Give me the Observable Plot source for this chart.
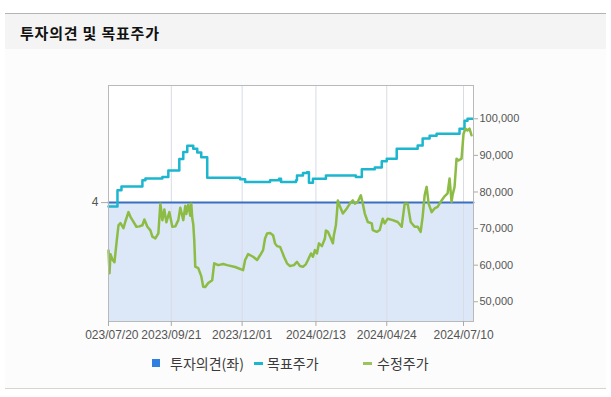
<!DOCTYPE html>
<html><head><meta charset="utf-8">
<script src="https://cdn.jsdelivr.net/npm/d3@7"></script>
<script src="https://cdn.jsdelivr.net/npm/@observablehq/plot@0.6"></script>
<style>
body{margin:0;background:#fff;width:611px;height:397px;position:relative;overflow:hidden;font-family:"Noto Sans CJK KR","Noto Sans",sans-serif;}
#topline{position:absolute;left:5px;top:13px;width:601px;height:1px;background:#b4b4b4}
#header{position:absolute;left:5px;top:14px;width:601px;height:35px;background:#f4f4f4}
#title{position:absolute;left:20px;top:25px;font-weight:bold;font-size:15px;line-height:15px;letter-spacing:0.8px;color:#111;white-space:nowrap}
#panel{position:absolute;left:5px;top:49px;width:601px;height:339px;background:#fcfcfc}
#bottomline{position:absolute;left:5px;top:388px;width:601px;height:1px;background:#d4d4d4}
#chart{position:absolute;left:0;top:49px}
.lg{position:absolute;font-size:14px;line-height:14px;top:356px;color:#3a3a3a;white-space:nowrap}
.sw{position:absolute}
</style></head>
<body>
<div id="topline"></div><div id="header"></div>
<div id="title">투자의견 및 목표주가</div>
<div id="panel"></div><div id="bottomline"></div>
<div id="chart"></div>
<div class="sw" style="left:152px;top:359px;width:8px;height:8px;background:#2e7fe0"></div>
<div class="lg" style="left:170px">투자의견(좌)</div>
<div class="sw" style="left:254px;top:362px;width:9px;height:3px;background:#1cb6cf"></div>
<div class="lg" style="left:267px">목표주가</div>
<div class="sw" style="left:363px;top:362px;width:9px;height:3px;background:#9cc35c"></div>
<div class="lg" style="left:377px">수정주가</div>
<script>
// x-axis tick labels
const tickLabels = ["2023/07/20","2023/09/21","2023/12/01","2024/02/13","2024/04/24","2024/07/10"];
// right axis (price) ticks
const priceTicks = [50000,60000,70000,80000,90000,100000];
// investment opinion (left axis)
const opinionDates = ["2023-07-20","2024-07-20"];
const opinionValues = [4,4];
const opinionTicks = [4];
// target price (목표주가)
const targetDates = ["2023-07-20","2023-07-29","2023-08-02","2023-08-23","2023-08-26","2023-09-12","2023-09-18","2023-09-29","2023-10-03","2023-10-07","2023-10-13","2023-10-17","2023-10-21","2023-10-27","2023-11-29","2023-12-04","2023-12-29","2024-01-07","2024-01-09","2024-01-24","2024-01-25","2024-01-31","2024-02-04","2024-02-06","2024-02-10","2024-02-23","2024-03-24","2024-03-30","2024-04-12","2024-04-19","2024-04-24","2024-05-04","2024-05-25","2024-05-30","2024-06-06","2024-06-13","2024-07-06","2024-07-11","2024-07-14","2024-07-19"];
const targetValues = [76000,80500,81500,83200,83700,84100,85900,89000,90900,92600,91800,90800,89500,83900,83500,82700,83200,83600,82700,83200,84500,85200,85400,82500,83600,84500,84100,86200,86700,88400,89100,91800,92700,94600,95400,95900,97300,99500,100000,100000];
// adjusted price (수정주가)
const priceDates = ["2023-07-20","2023-07-21","2023-07-22","2023-07-24","2023-07-26","2023-07-28","2023-07-30","2023-08-01","2023-08-04","2023-08-06","2023-08-09","2023-08-11","2023-08-13","2023-08-17","2023-08-20","2023-08-23","2023-08-25","2023-08-28","2023-08-31","2023-09-02","2023-09-05","2023-09-08","2023-09-10","2023-09-12","2023-09-14","2023-09-16","2023-09-19","2023-09-22","2023-09-25","2023-09-28","2023-09-30","2023-10-03","2023-10-05","2023-10-06","2023-10-08","2023-10-10","2023-10-11","2023-10-12","2023-10-13","2023-10-14","2023-10-15","2023-10-18","2023-10-21","2023-10-23","2023-10-25","2023-10-28","2023-11-01","2023-11-03","2023-11-07","2023-11-12","2023-11-16","2023-11-24","2023-12-02","2023-12-04","2023-12-07","2023-12-12","2023-12-16","2023-12-19","2023-12-22","2023-12-24","2023-12-26","2023-12-29","2024-01-01","2024-01-03","2024-01-05","2024-01-08","2024-01-10","2024-01-12","2024-01-15","2024-01-18","2024-01-22","2024-01-25","2024-01-28","2024-01-31","2024-02-03","2024-02-05","2024-02-08","2024-02-10","2024-02-12","2024-02-14","2024-02-16","2024-02-19","2024-02-22","2024-02-23","2024-02-25","2024-02-28","2024-03-01","2024-03-02","2024-03-04","2024-03-05","2024-03-06","2024-03-08","2024-03-11","2024-03-15","2024-03-18","2024-03-21","2024-03-23","2024-03-26","2024-03-29","2024-03-31","2024-04-02","2024-04-05","2024-04-09","2024-04-10","2024-04-14","2024-04-17","2024-04-20","2024-04-22","2024-04-25","2024-04-30","2024-05-05","2024-05-09","2024-05-12","2024-05-15","2024-05-18","2024-05-22","2024-05-25","2024-05-28","2024-05-30","2024-06-01","2024-06-03","2024-06-05","2024-06-08","2024-06-11","2024-06-14","2024-06-18","2024-06-21","2024-06-24","2024-06-26","2024-06-28","2024-06-29","2024-07-01","2024-07-03","2024-07-05","2024-07-08","2024-07-10","2024-07-12","2024-07-14","2024-07-16","2024-07-18"];
const priceValues = [64000,57800,63000,61500,60800,66000,70900,71500,70100,72000,74500,73200,72300,70500,70600,70900,72500,70500,69500,67800,67300,68700,76800,72300,75200,71700,74500,70500,70600,72300,75700,72300,76200,74000,76600,73500,76800,72800,71200,66800,59600,59200,57000,54100,54000,55100,55900,60500,60000,60300,60000,59500,58650,61400,63000,62300,61400,62700,64100,67300,68650,68800,68200,65950,65200,65000,63700,62300,60500,59750,60000,60900,59750,59550,60300,61400,63200,62300,64100,63200,65950,65200,67300,69500,69100,67300,65950,68200,70900,74100,77700,76100,74100,75500,76800,77700,76800,77300,79100,76800,74100,71800,71400,69600,69100,69600,72700,71400,72700,72300,71800,70500,76800,76800,71800,70500,70500,69100,73200,79100,81400,76800,74500,75500,75900,77700,78800,79600,83700,77300,79100,81400,89100,88600,89100,95900,97300,96800,97300,95500];

const parse = d3.utcParse("%Y-%m-%d");
const tickParse = d3.utcParse("%Y/%m/%d");
const ticks = tickLabels.map(tickParse);
const target = targetDates.map((d,i)=>({date:parse(d), v:targetValues[i]}));
const price = priceDates.map((d,i)=>({date:parse(d), v:priceValues[i]}));
const opinion = opinionDates.map((d,i)=>({date:parse(d), v:opinionValues[i]}));

const yDomain = [44600, 109100];
const opMax = 7.94; // left axis (opinion) spans 0..opMax over the same height
const opToY = o => yDomain[0] + o/opMax*(yDomain[1]-yDomain[0]);

const chart = Plot.plot({
  width: 611, height: 303,
  marginLeft: 108, marginRight: 138, marginTop: 36, marginBottom: 31,
  style: {background:"transparent", fontFamily:"'Liberation Sans', Arial, sans-serif", fontSize:"11px", color:"#555"},
  x: {type:"utc", domain:[parse("2023-07-20"), parse("2024-07-20")], axis:null},
  y: {domain:yDomain, axis:null},
  marks: [
    Plot.frame({fill:"#ffffff", stroke:null}),
    Plot.areaY(opinion, {x:"date", y1:yDomain[0], y2:d=>opToY(d.v), fill:"#dce7f7", curve:"step-after"}),
    Plot.gridX(ticks, {stroke:"#d8dde4", strokeOpacity:1}),
    Plot.lineY(opinion, {x:"date", y:d=>opToY(d.v), stroke:"#3b6fc2", strokeWidth:2, curve:"step-after"}),
    Plot.line(target, {x:"date", y:"v", stroke:"#1cb6cf", strokeWidth:2.5, curve:"step-after"}),
    Plot.line(price, {x:"date", y:"v", stroke:"#8cbc44", strokeWidth:2.5}),
    Plot.frame({stroke:"#b9b9b9"}),
    Plot.axisX(ticks, {label:null, tickFormat:d3.utcFormat("%Y/%m/%d"), tickSize:5, tickPadding:4, fontSize:12, stroke:"#aaa", fill:"#555"}),
    Plot.axisY(priceTicks, {label:null, anchor:"right", tickFormat:d3.format(","), tickSize:4, tickPadding:2, fontSize:11, stroke:"#aaa", fill:"#555"}),
    Plot.axisY(opinionTicks.map(opToY), {label:null, anchor:"left", tickFormat:()=>String(opinionTicks[0]), tickSize:7, tickPadding:3, fontSize:12, stroke:"#aaa", fill:"#555"})
  ]
});
chart.style.clipPath = "inset(0px 0px 0px 85px)";
document.getElementById("chart").appendChild(chart);
</script>
</body></html>
